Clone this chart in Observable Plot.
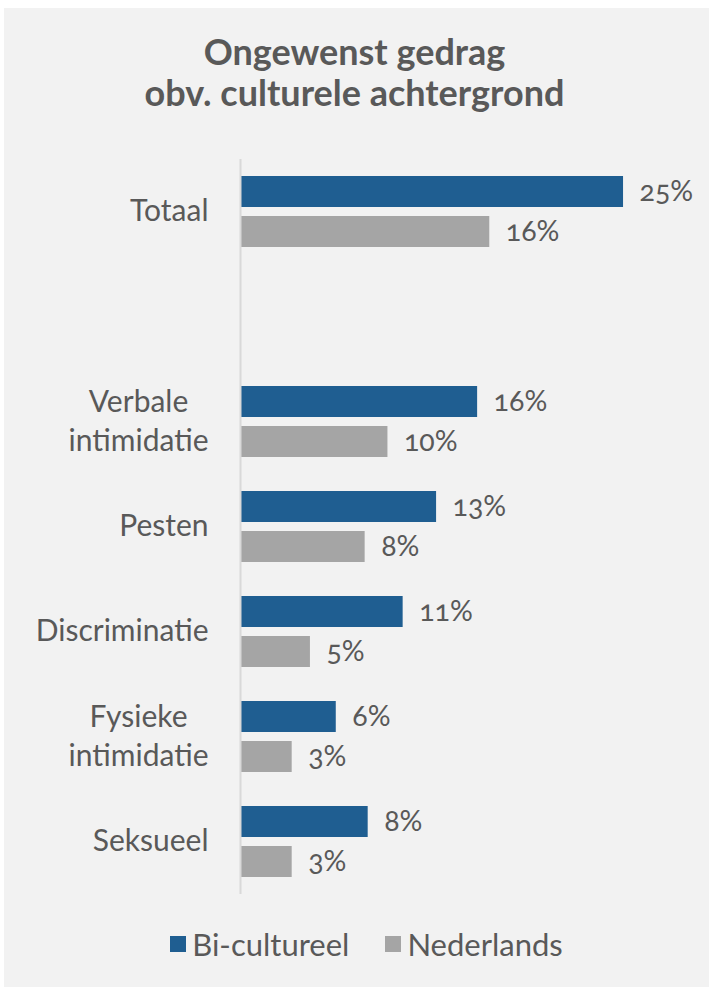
<!DOCTYPE html>
<html><head><meta charset="utf-8">
<script src="https://cdn.jsdelivr.net/npm/d3@7"></script>
<script src="https://cdn.jsdelivr.net/npm/@observablehq/plot@0.6"></script>
<style>
html,body{margin:0;padding:0;background:#fff;width:709px;height:987px;overflow:hidden;}
#panel{position:absolute;left:4px;top:8px;width:705px;height:979px;background:#f2f2f2;}
#title{position:absolute;left:0;top:31px;width:709px;text-align:center;font-family:Lato;font-weight:bold;font-size:36px;line-height:41px;color:#595959;}
#chart{position:absolute;left:0;top:130px;}
#legend{position:absolute;left:12px;top:927px;width:709px;display:flex;justify-content:center;align-items:center;font-family:Lato;font-size:31px;line-height:34px;color:#595959;}
.item{display:flex;align-items:center;margin:0 18px;}
.sw{width:16px;height:16px;margin-right:6px;}
.vlabel{font-variant-numeric:oldstyle-nums;}
</style>
</head><body>
<div id="panel"></div>
<div id="title">Ongewenst gedrag<br>obv. culturele achtergrond</div>
<div id="chart"></div>
<div id="legend"></div>
<script>
const categories = ["Totaal", " ", "Verbale\nintimidatie", "Pesten", "Discriminatie", "Fysieke\nintimidatie", "Seksueel"];
const series = ["Bi-cultureel", "Nederlands"];
const biValues = [25.2, null, 15.6, 12.9, 10.7, 6.3, 8.4];
const nlValues = [16.4, null, 9.7, 8.2, 4.6, 3.4, 3.4];
const colors = ["#1f5e91", "#a5a5a5"];

const data = [];
categories.forEach((c, i) => {
  if (biValues[i] != null) data.push({category: c, series: series[0], value: biValues[i]});
  if (nlValues[i] != null) data.push({category: c, series: series[1], value: nlValues[i]});
});

const chart = Plot.plot({
  width: 709, height: 790,
  marginLeft: 240, marginRight: 13, marginTop: 27, marginBottom: 25,
  style: {background: "transparent", fontFamily: "Lato", color: "#595959", overflow: "visible"},
  x: {domain: [0, 30], axis: null},
  fy: {domain: categories, padding: 0, axis: null},
  y: {domain: series, axis: null, paddingInner: 0.22, paddingOuter: 0.395},
  color: {domain: series, range: colors},
  marks: [
    Plot.barX(data, {x: "value", y: "series", fy: "category", fill: "series"}),
    Plot.text(data, {x: "value", y: "series", fy: "category", text: d => Math.round(d.value) + "%",
      textAnchor: "start", dx: 16, fontSize: 28.5, fill: "#595959", className: "vlabel"}),
    Plot.text(categories, {fy: d => d, text: d => d, frameAnchor: "left", textAnchor: "end",
      dx: -32, dy: -3, fontSize: 30, lineHeight: 1.3, fill: "#595959", className: "catlabel"}),
    Plot.ruleX([0], {stroke: "#d9d9d9", strokeWidth: 2})
  ]
});
document.getElementById("chart").appendChild(chart);

// center multi-line category labels relative to each other
function centerLines() {
  chart.querySelectorAll(".catlabel text").forEach(t => {
    const spans = t.querySelectorAll("tspan");
    if (spans.length < 2) return;
    const lens = Array.from(spans, s => s.getComputedTextLength());
    const max = Math.max(...lens);
    spans.forEach((s, i) => s.setAttribute("x", -(max - lens[i]) / 2));
  });
}
centerLines();
if (document.fonts) document.fonts.ready.then(centerLines);

const legend = document.getElementById("legend");
series.forEach((s, i) => {
  const it = document.createElement("div"); it.className = "item";
  const sw = document.createElement("div"); sw.className = "sw"; sw.style.background = colors[i];
  const lb = document.createElement("span"); lb.textContent = s;
  it.appendChild(sw); it.appendChild(lb); legend.appendChild(it);
});
</script>
</body></html>
